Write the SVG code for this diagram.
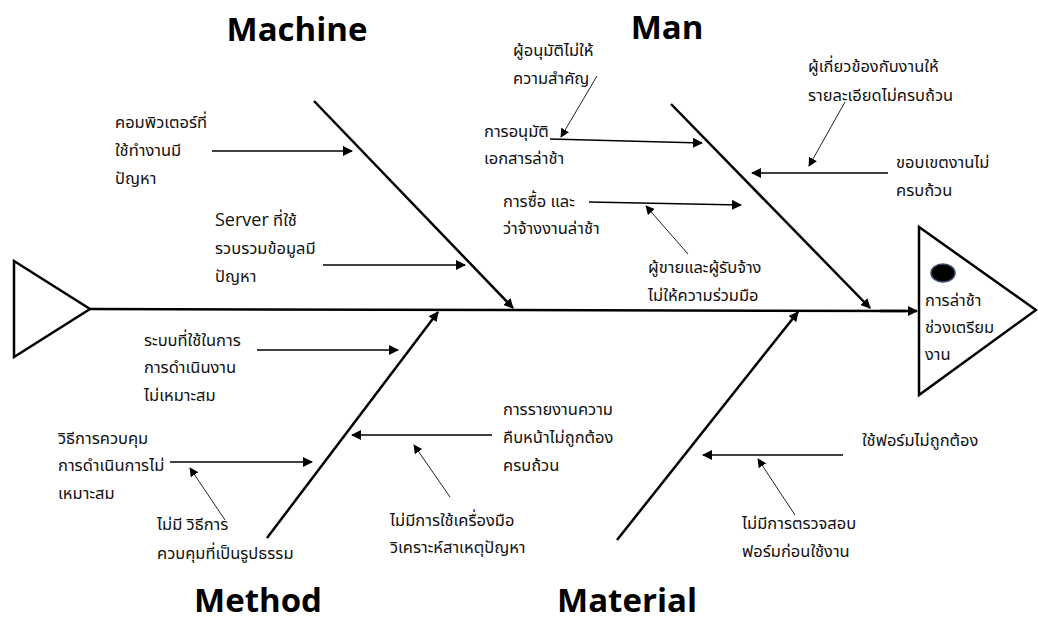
<svg xmlns="http://www.w3.org/2000/svg" width="1038" height="622" viewBox="0 0 1038 622">
  <defs>
    <marker id="ah" viewBox="0 0 10 10" refX="9" refY="5" markerWidth="10" markerHeight="10" markerUnits="userSpaceOnUse" orient="auto">
      <path d="M0,0 L10,5 L0,10 Z" fill="#000"/>
    </marker>
    <marker id="ahs" viewBox="0 0 10 10" refX="9" refY="5" markerWidth="9" markerHeight="9" markerUnits="userSpaceOnUse" orient="auto">
      <path d="M0,0 L10,5 L0,10 Z" fill="#000"/>
    </marker>
  </defs>
  <style>
    .title { font-family: "Open Sans", "Noto Sans", sans-serif; font-weight: bold; font-size: 33px; fill: #000; }
    .lbl { font-family: "Noto Sans Thai", "Tahoma", "Loma", "Garuda", "Noto Sans", sans-serif; font-size: 16.5px; fill: #111; }
    .srv { font-family: "Open Sans", "Noto Sans", sans-serif; font-size: 18px; }
    .bone { stroke: #000; stroke-width: 2.5; fill: none; marker-end: url(#ah); }
    .spine { stroke: #000; stroke-width: 2.5; fill: none; }
    .cause { stroke: #000; stroke-width: 1.5; fill: none; marker-end: url(#ah); }
    .sub { stroke: #222; stroke-width: 1; fill: none; marker-end: url(#ahs); }
    .shape { stroke: #000; stroke-width: 2.5; fill: #fff; stroke-linejoin: miter; }
  </style>
  <rect width="1038" height="622" fill="#fff"/>

  <!-- tail -->
  <g id="tail">
    <polygon class="shape" points="14,261 90,309 14,357"/>
  </g>

  <!-- head: effect -->
  <g id="head">
    <polygon class="shape" points="919,227 1036,310 919,395"/>
    <ellipse cx="943" cy="273" rx="12" ry="9" fill="#000" stroke="#3a4a6a" stroke-width="1.5"/>
    <text class="lbl" x="925" y="306">การล่าช้า</text>
    <text class="lbl" x="925" y="333">ช่วงเตรียม</text>
    <text class="lbl" x="925" y="360">งาน</text>
  </g>

  <!-- category titles -->
  <g id="machine-title"><text class="title" x="297" y="41" text-anchor="middle">Machine</text></g>
  <g id="man-title"><text class="title" x="667" y="39" text-anchor="middle">Man</text></g>
  <g id="method-title"><text class="title" x="258" y="612" text-anchor="middle">Method</text></g>
  <g id="material-title"><text class="title" x="627" y="612" text-anchor="middle">Material</text></g>

  <!-- cause labels -->
  <g id="c-computer">
    <text class="lbl" x="115" y="128">คอมพิวเตอร์ที่</text>
    <text class="lbl" x="115" y="156">ใช้ทำงานมี</text>
    <text class="lbl" x="115" y="184">ปัญหา</text>
  </g>
  <g id="c-server">
    <text class="lbl" x="215" y="226"><tspan class="srv">Server</tspan> ที่ใช้</text>
    <text class="lbl" x="215" y="254">รวบรวมข้อมูลมี</text>
    <text class="lbl" x="215" y="282">ปัญหา</text>
  </g>
  <g id="c-approver">
    <text class="lbl" x="513" y="56">ผู้อนุมัติไม่ให้</text>
    <text class="lbl" x="513" y="84">ความสำคัญ</text>
  </g>
  <g id="c-approval">
    <text class="lbl" x="484" y="137">การอนุมัติ</text>
    <text class="lbl" x="484" y="164">เอกสารล่าช้า</text>
  </g>
  <g id="c-purchase">
    <text class="lbl" x="503" y="207">การซื้อ และ</text>
    <text class="lbl" x="503" y="234">ว่าจ้างงานล่าช้า</text>
  </g>
  <g id="c-vendor">
    <text class="lbl" x="648" y="273">ผู้ขายและผู้รับจ้าง</text>
    <text class="lbl" x="648" y="301">ไม่ให้ความร่วมมือ</text>
  </g>
  <g id="c-staff">
    <text class="lbl" x="808" y="72">ผู้เกี่ยวข้องกับงานให้</text>
    <text class="lbl" x="808" y="101">รายละเอียดไม่ครบถ้วน</text>
  </g>
  <g id="c-scope">
    <text class="lbl" x="896" y="168">ขอบเขตงานไม่</text>
    <text class="lbl" x="896" y="196">ครบถ้วน</text>
  </g>
  <g id="c-system">
    <text class="lbl" x="144" y="346">ระบบที่ใช้ในการ</text>
    <text class="lbl" x="144" y="373">การดำเนินงาน</text>
    <text class="lbl" x="144" y="401">ไม่เหมาะสม</text>
  </g>
  <g id="c-control">
    <text class="lbl" x="58" y="444">วิธีการควบคุม</text>
    <text class="lbl" x="58" y="471">การดำเนินการไม่</text>
    <text class="lbl" x="58" y="499">เหมาะสม</text>
  </g>
  <g id="c-nocontrol">
    <text class="lbl" x="157" y="530">ไม่มี วิธีการ</text>
    <text class="lbl" x="157" y="559">ควบคุมที่เป็นรูปธรรม</text>
  </g>
  <g id="c-report">
    <text class="lbl" x="503" y="415">การรายงานความ</text>
    <text class="lbl" x="503" y="443">คืบหน้าไม่ถูกต้อง</text>
    <text class="lbl" x="503" y="471">ครบถ้วน</text>
  </g>
  <g id="c-notool">
    <text class="lbl" x="390" y="526">ไม่มีการใช้เครื่องมือ</text>
    <text class="lbl" x="390" y="553">วิเคราะห์สาเหตุปัญหา</text>
  </g>
  <g id="c-form">
    <text class="lbl" x="862" y="446">ใช้ฟอร์มไม่ถูกต้อง</text>
  </g>
  <g id="c-nocheck">
    <text class="lbl" x="742" y="529">ไม่มีการตรวจสอบ</text>
    <text class="lbl" x="742" y="557">ฟอร์มก่อนใช้งาน</text>
  </g>

  <!-- connectors -->
  <g id="connectors">
    <!-- spine -->
    <path class="spine" d="M90,309 L906,311"/>
    <path class="bone" d="M880,311 L917,311"/>
    <!-- main bones -->
    <path class="bone" d="M314,101 L513,308"/>
    <path class="bone" d="M671,104 L870,308"/>
    <path class="bone" d="M267,538 L438,312"/>
    <path class="bone" d="M617,540 L798,312"/>
    <!-- machine causes -->
    <path class="cause" d="M212,151 L352,151"/>
    <path class="cause" d="M323,265 L465,265"/>
    <!-- man causes -->
    <path class="cause" d="M550,139 L702,143"/>
    <path class="cause" d="M589,202 L741,205"/>
    <path class="cause" d="M888,173 L752,173"/>
    <path class="sub" d="M597,76 L561,137"/>
    <path class="sub" d="M688,254 L646,206"/>
    <path class="sub" d="M845,102 L809,166"/>
    <!-- method causes -->
    <path class="cause" d="M257,350 L398,350"/>
    <path class="cause" d="M170,462 L312,462"/>
    <path class="cause" d="M492,435 L352,435"/>
    <path class="sub" d="M225,520 L190,468"/>
    <path class="sub" d="M450,497 L414,445"/>
    <!-- material causes -->
    <path class="cause" d="M843,455 L703,455"/>
    <path class="sub" d="M795,515 L758,459"/>
  </g>
</svg>
